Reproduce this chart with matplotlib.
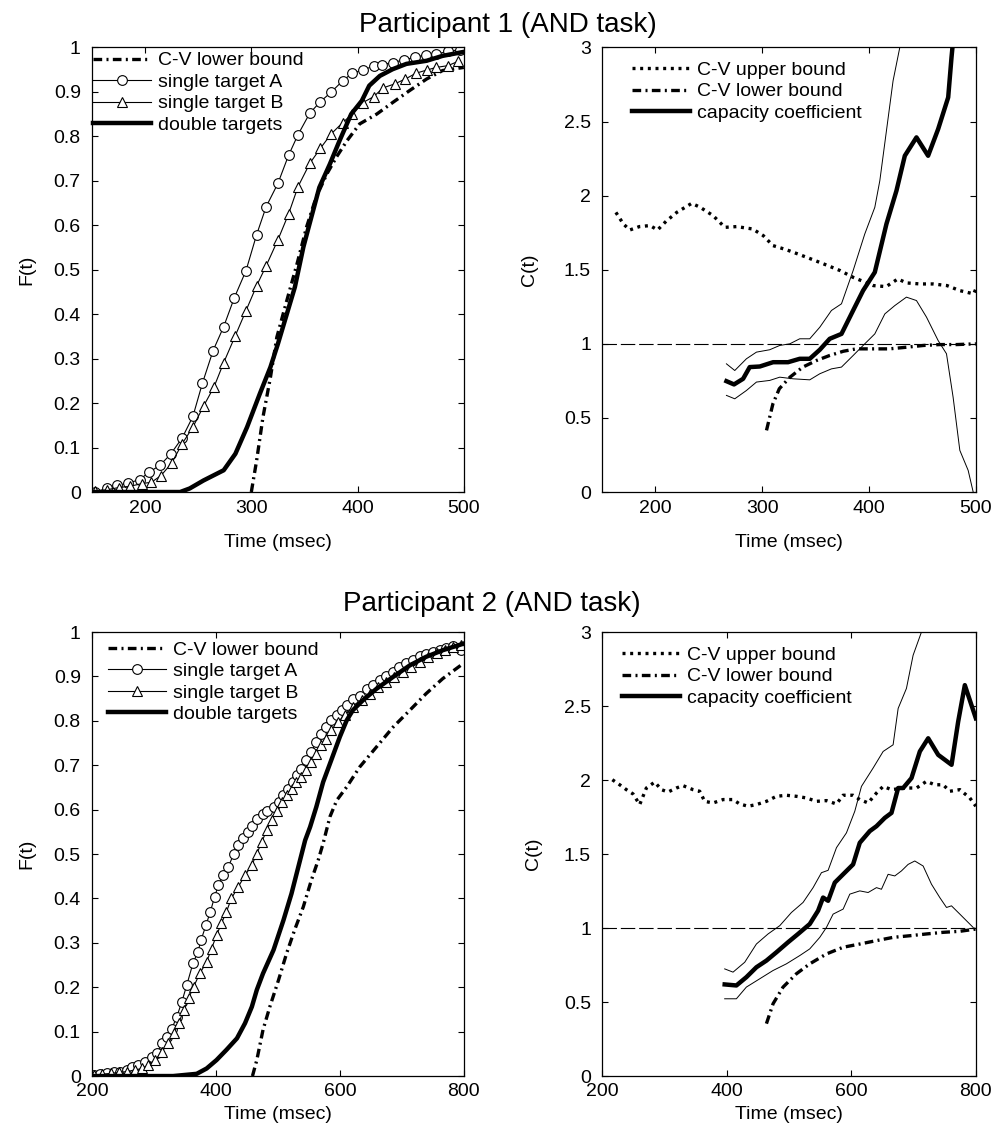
import numpy as np
import matplotlib
matplotlib.use("Agg")
import matplotlib.pyplot as plt

plt.rcParams['font.family'] = ['Liberation Sans', 'DejaVu Sans']

# ---------------- Participant 1, CDFs ----------------
p1_t_A = [153, 164, 174, 184, 195, 204, 214, 224, 235, 245, 254, 264, 274, 284, 295,
          305, 314, 325, 335, 344, 355, 365, 375, 386, 395, 405, 415, 423, 433, 444,
          454, 464, 474, 485, 496]
p1_F_A = [0.0, 0.008, 0.015, 0.020, 0.028, 0.045, 0.060, 0.085, 0.122, 0.170, 0.245,
          0.318, 0.372, 0.437, 0.498, 0.579, 0.642, 0.694, 0.757, 0.804, 0.852, 0.878,
          0.899, 0.925, 0.942, 0.949, 0.958, 0.961, 0.966, 0.972, 0.978, 0.983, 0.985,
          0.991, 0.995]

p1_t_B = [153, 164, 175, 186, 197, 206, 215, 225, 235, 245, 255, 265, 274, 285, 295,
          305, 314, 325, 335, 344, 355, 365, 375, 386, 395, 405, 415, 424, 435, 445,
          455, 465, 474, 485, 495]
p1_F_B = [0.002, 0.005, 0.010, 0.013, 0.019, 0.022, 0.037, 0.065, 0.109, 0.146, 0.193,
          0.237, 0.291, 0.352, 0.408, 0.464, 0.509, 0.567, 0.625, 0.687, 0.739, 0.773,
          0.805, 0.831, 0.850, 0.876, 0.889, 0.909, 0.918, 0.929, 0.942, 0.949, 0.955,
          0.959, 0.969]

p1_t_AB = [150, 233, 242, 255, 274, 285, 296, 308, 318, 325, 333, 341, 349, 354, 364,
           374, 383, 394, 404, 411, 421, 433, 446, 465, 480, 500]
p1_F_AB = [0.0, 0.0, 0.008, 0.026, 0.049, 0.086, 0.146, 0.221, 0.281, 0.333, 0.397,
           0.461, 0.551, 0.596, 0.685, 0.738, 0.790, 0.850, 0.880, 0.914, 0.936, 0.951,
           0.963, 0.970, 0.981, 0.990]

p1_t_lowF = [300, 305, 311, 318, 324, 330, 336, 343, 352, 361, 371, 380, 390, 402, 418,
             433, 449, 465, 480, 500]
p1_F_low = [0.0, 0.071, 0.169, 0.258, 0.348, 0.401, 0.453, 0.513, 0.596, 0.663, 0.715,
            0.753, 0.790, 0.828, 0.850, 0.876, 0.903, 0.929, 0.948, 0.955]

# ---------------- Participant 1, capacity ----------------
p1_t_up = [163, 170, 176, 185, 195, 202, 210, 220, 234, 242, 254, 265, 276, 291, 301,
           310, 323, 335, 348, 360, 373, 385, 398, 404, 416, 427, 435, 448, 460, 473,
           485, 498, 500]
p1_C_up = [1.887, 1.809, 1.768, 1.791, 1.798, 1.768, 1.827, 1.887, 1.948, 1.921, 1.865,
           1.786, 1.791, 1.775, 1.730, 1.663, 1.634, 1.602, 1.566, 1.532, 1.494, 1.449,
           1.411, 1.393, 1.386, 1.438, 1.411, 1.404, 1.404, 1.393, 1.359, 1.337, 1.371]

p1_t_lowC = [304, 310, 316, 326, 338, 351, 363, 376, 388, 404, 419, 435, 451, 466, 482, 500]
p1_C_low = [0.416, 0.595, 0.697, 0.775, 0.843, 0.888, 0.921, 0.950, 0.966, 0.966, 0.966,
            0.977, 0.989, 0.995, 0.995, 1.0]

p1_t_cap = [266.5, 273.6, 282.1, 288.3, 297.7, 310.2, 324.2, 335.1, 344.5, 353.9, 363.2,
            374.2, 385.1, 394.4, 405.4, 416.3, 425.7, 433.5, 444.4, 455.3, 464.7, 474.1,
            477.2, 478.1]
p1_C_cap = [0.748, 0.726, 0.764, 0.843, 0.847, 0.876, 0.876, 0.899, 0.899, 0.960, 1.034,
            1.067, 1.225, 1.359, 1.483, 1.809, 2.034, 2.269, 2.393, 2.269, 2.449, 2.663,
            2.932, 3.0]

p1_t_ciu = [266.5, 274.3, 285.2, 294.6, 307, 316.4, 325.8, 335.1, 344.5, 353.9, 364.8,
            374.2, 385.1, 396, 405.4, 410.1, 416.3, 422.5, 428.8]
p1_C_ciu = [0.865, 0.820, 0.899, 0.944, 0.960, 0.989, 1.0, 1.034, 1.034, 1.112, 1.225,
            1.270, 1.494, 1.741, 1.921, 2.101, 2.438, 2.775, 3.0]

p1_t_cil = [266.5, 274.3, 285.2, 294.6, 307, 316.4, 328.9, 344.5, 353.9, 364.8, 374.2,
            385.1, 396, 405.4, 414.8, 424.1, 435, 444.4, 453.8, 464.7, 472.5, 478.7,
            485, 492.8, 497.5]
p1_C_cil = [0.652, 0.629, 0.685, 0.742, 0.753, 0.775, 0.764, 0.757, 0.798, 0.831, 0.843,
            0.921, 1.0, 1.067, 1.202, 1.258, 1.315, 1.292, 1.180, 1.022, 0.933, 0.640,
            0.281, 0.146, 0.0]

# ---------------- Participant 2, CDFs ----------------
p2_t_A = [203, 213, 224, 235, 246, 256, 264, 275, 286, 297, 305, 313, 321, 329, 337,
          345, 353, 363, 371, 376, 384, 391, 398, 404, 412, 420, 429, 436, 444, 452,
          459, 467, 476, 482, 493, 501, 509, 517, 525, 531, 538, 546, 554, 562, 570,
          578, 586, 595, 603, 611, 621, 632, 643, 654, 664, 675, 686, 696, 707, 718,
          729, 739, 750, 761, 772, 782, 796]
p2_F_A = [0.002, 0.005, 0.006, 0.008, 0.010, 0.014, 0.021, 0.025, 0.032, 0.044, 0.051,
          0.074, 0.089, 0.107, 0.134, 0.167, 0.205, 0.254, 0.280, 0.306, 0.340, 0.370,
          0.404, 0.430, 0.452, 0.471, 0.501, 0.520, 0.535, 0.550, 0.563, 0.578, 0.591,
          0.597, 0.606, 0.617, 0.632, 0.647, 0.662, 0.677, 0.692, 0.711, 0.730, 0.752,
          0.771, 0.786, 0.801, 0.812, 0.824, 0.835, 0.850, 0.857, 0.872, 0.880, 0.891,
          0.902, 0.910, 0.921, 0.930, 0.938, 0.945, 0.951, 0.955, 0.960, 0.965, 0.968,
          0.959]

p2_t_B = [203, 216, 230, 243, 256, 270, 281, 291, 302, 313, 323, 332, 340, 348, 356,
          364, 374, 385, 393, 401, 409, 417, 425, 436, 447, 458, 466, 474, 482, 490,
          498, 506, 514, 522, 530, 538, 546, 554, 562, 570, 578, 586, 597, 608, 621,
          635, 648, 662, 675, 688, 702, 715, 729, 742, 756, 769, 782, 796]
p2_F_B = [0.002, 0.004, 0.006, 0.008, 0.010, 0.014, 0.017, 0.025, 0.036, 0.055, 0.074,
          0.096, 0.119, 0.149, 0.175, 0.201, 0.231, 0.257, 0.287, 0.317, 0.344, 0.370,
          0.400, 0.426, 0.452, 0.475, 0.501, 0.527, 0.554, 0.576, 0.597, 0.617, 0.632,
          0.647, 0.662, 0.674, 0.689, 0.707, 0.726, 0.745, 0.760, 0.779, 0.797, 0.812,
          0.831, 0.846, 0.861, 0.876, 0.887, 0.899, 0.910, 0.921, 0.932, 0.944, 0.953,
          0.960, 0.966, 0.970]

p2_t_AB = [200, 331, 369, 385, 401, 417, 434, 447, 458, 466, 476, 493, 509, 522, 533,
           544, 552, 562, 573, 586, 600, 611, 621, 637, 659, 686, 713, 739, 766, 800]
p2_F_AB = [0.0, 0.0, 0.005, 0.017, 0.036, 0.059, 0.085, 0.119, 0.156, 0.194, 0.231,
           0.284, 0.351, 0.411, 0.471, 0.531, 0.561, 0.606, 0.662, 0.711, 0.764, 0.801,
           0.824, 0.846, 0.872, 0.899, 0.925, 0.944, 0.959, 0.974]

p2_t_lowF = [459, 466, 476, 487, 501, 514, 527, 541, 554, 565, 573, 584, 595, 611, 632,
             659, 686, 713, 739, 766, 800]
p2_F_low = [0.0, 0.036, 0.104, 0.156, 0.216, 0.276, 0.329, 0.381, 0.441, 0.486, 0.524,
            0.584, 0.621, 0.651, 0.696, 0.741, 0.786, 0.824, 0.861, 0.895, 0.930]

# ---------------- Participant 2, capacity ----------------
p2_t_up = [216.6, 228.4, 239.1, 249.8, 260.5, 271.2, 284.6, 295.3, 306, 319.3, 330,
           346.1, 356.8, 364.8, 378.2, 394.3, 410.3, 421, 434.4, 447.8, 463.9, 479.9,
           496, 512, 528.1, 544.1, 560.2, 576.3, 586.9, 603, 613.7, 627.1, 640.5, 651.2,
           664.6, 677.9, 688.6, 704.7, 720.7, 734.1, 747.5, 758.2, 774.3, 790.3, 800]
p2_C_up = [2.002, 1.968, 1.935, 1.906, 1.834, 1.946, 1.986, 1.935, 1.919, 1.946, 1.962,
           1.935, 1.924, 1.856, 1.845, 1.868, 1.868, 1.838, 1.823, 1.834, 1.856, 1.890,
           1.897, 1.890, 1.879, 1.856, 1.861, 1.838, 1.897, 1.897, 1.868, 1.845, 1.912,
           1.957, 1.935, 1.942, 1.946, 1.946, 1.991, 1.968, 1.968, 1.924, 1.935, 1.879,
           1.823]

p2_t_lowC = [463.9, 474.6, 490.6, 512, 533.4, 560.2, 586.9, 613.7, 640.5, 667.2, 694,
             720.7, 747.5, 774.3, 800]
p2_C_low = [0.354, 0.489, 0.601, 0.691, 0.758, 0.825, 0.870, 0.892, 0.915, 0.937, 0.948,
            0.960, 0.971, 0.978, 0.993]

p2_t_cap = [396.9, 415.7, 431.7, 447.8, 463.9, 479.9, 498.6, 514.7, 533.4, 546.8, 554.8,
            562.9, 573.6, 589.6, 603, 613.7, 629.8, 640.5, 653.8, 664.6, 675.3, 683.3,
            696.7, 710.1, 723.5, 739.6, 761, 771.6, 782.3, 800]
p2_C_cap = [0.619, 0.612, 0.668, 0.735, 0.780, 0.836, 0.904, 0.960, 1.027, 1.117, 1.206,
            1.184, 1.307, 1.374, 1.430, 1.576, 1.655, 1.688, 1.744, 1.778, 1.946, 1.946,
            2.013, 2.193, 2.282, 2.170, 2.103, 2.394, 2.641, 2.417]

p2_t_ciu = [396.9, 410.3, 429.1, 447.8, 466.5, 485.3, 504, 522.7, 538.8, 552.2, 562.9,
            576.3, 592.3, 605.7, 616.4, 635.1, 651.2, 667.2, 675.3, 688.6, 699.3, 712.7]
p2_C_ciu = [0.724, 0.702, 0.769, 0.892, 0.960, 1.016, 1.105, 1.173, 1.273, 1.374, 1.390,
            1.543, 1.643, 1.789, 1.957, 2.081, 2.193, 2.238, 2.484, 2.619, 2.843, 3.0]

p2_t_cil = [396.9, 415.7, 431.7, 453.1, 474.5, 495.9, 517.4, 533.4, 549.5, 560.2, 570.9,
            587, 597.7, 613.7, 627.1, 640.5, 648.5, 659.2, 669.9, 680.6, 691.3, 702,
            715.4, 728.8, 742.1, 752.9, 760.9, 774.3, 795.7]
p2_C_cil = [0.522, 0.522, 0.601, 0.657, 0.713, 0.758, 0.814, 0.859, 0.937, 1.004, 1.094,
            1.128, 1.229, 1.251, 1.240, 1.273, 1.262, 1.363, 1.352, 1.386, 1.430, 1.453,
            1.419, 1.296, 1.206, 1.139, 1.150, 1.094, 1.004]

F_ticks = [0, 0.1, 0.2, 0.3, 0.4, 0.5, 0.6, 0.7, 0.8, 0.9, 1]
C_ticks = [0, 0.5, 1, 1.5, 2, 2.5, 3]

DASHDOT = (2.6, 1.3, 0.6, 1.3)
DOTTED = (0.9, 1.4)
FS = 14

fig = plt.figure(figsize=(10.05, 11.4), dpi=100)
ax1 = fig.add_axes([0.0915, 0.5684, 0.370, 0.390])
ax2 = fig.add_axes([0.599, 0.5684, 0.372, 0.390])
ax3 = fig.add_axes([0.0915, 0.0561, 0.370, 0.3895])
ax4 = fig.add_axes([0.599, 0.0561, 0.372, 0.3895])


def style(ax, xlim, xticks, ylim, yticks, ylab, xlab_y, ylab_x, xpad):
    ax.set_xlim(xlim)
    ax.set_ylim(ylim)
    ax.set_xticks(xticks)
    ax.set_yticks(yticks)
    ax.set_yticklabels(['%g' % v for v in yticks])
    ax.tick_params(direction='in', top=True, right=True, length=4, width=0.8,
                   labelsize=FS)
    ax.tick_params(axis='x', pad=xpad)
    ax.tick_params(axis='y', pad=8)
    for s in ax.spines.values():
        s.set_linewidth(0.9)
    ax.set_xlabel('Time (msec)', fontsize=FS)
    ax.set_ylabel(ylab, fontsize=FS)
    ax.xaxis.set_label_coords(0.5, xlab_y)
    ax.yaxis.set_label_coords(ylab_x, 0.5)


def cdf_panel(ax, tA, FA, tB, FB, tAB, FAB, tL, FL):
    ax.plot(tL, FL, color='black', lw=2.4, dashes=DASHDOT, label='C-V lower bound')
    ax.plot(tA, FA, color='black', lw=0.8, marker='o', ms=7, mfc='white', mec='black',
            mew=0.8, label='single target A')
    ax.plot(tB, FB, color='black', lw=0.8, marker='^', ms=7, mfc='white', mec='black',
            mew=0.8, label='single target B')
    ax.plot(tAB, FAB, color='black', lw=3.2, label='double targets')


def cap_panel(ax, tU, CU, tL, CL, tC, CC, tCu, CCu, tCl, CCl):
    ax.axhline(1, color='black', lw=0.8, dashes=(13, 3.5))
    ax.plot(tU, CU, color='black', lw=2.4, dashes=DOTTED, label='C-V upper bound')
    ax.plot(tL, CL, color='black', lw=2.4, dashes=DASHDOT, label='C-V lower bound')
    ax.plot(tC, CC, color='black', lw=3.2, label='capacity coefficient')
    ax.plot(tCu, CCu, color='black', lw=0.7)
    ax.plot(tCl, CCl, color='black', lw=0.7)


leg_kw = dict(frameon=False, fontsize=FS, handlelength=3.0, handletextpad=0.35,
              labelspacing=0.2, borderpad=0, borderaxespad=0, loc='upper left')

cdf_panel(ax1, p1_t_A, p1_F_A, p1_t_B, p1_F_B, p1_t_AB, p1_F_AB, p1_t_lowF, p1_F_low)
style(ax1, (150, 500), [200, 300, 400, 500], (0, 1), F_ticks, 'F(t)', -0.095, -0.153, 6)
ax1.legend(bbox_to_anchor=(0.002, 0.99), **leg_kw)

cap_panel(ax2, p1_t_up, p1_C_up, p1_t_lowC, p1_C_low, p1_t_cap, p1_C_cap,
          p1_t_ciu, p1_C_ciu, p1_t_cil, p1_C_cil)
style(ax2, (150, 500), [200, 300, 400, 500], (0, 3), C_ticks, 'C(t)', -0.095, -0.171, 6)
ax2.legend(bbox_to_anchor=(0.08, 0.969), **leg_kw)

cdf_panel(ax3, p2_t_A, p2_F_A, p2_t_B, p2_F_B, p2_t_AB, p2_F_AB, p2_t_lowF, p2_F_low)
style(ax3, (200, 800), [200, 400, 600, 800], (0, 1), F_ticks, 'F(t)', -0.068, -0.153, 5)
ax3.legend(bbox_to_anchor=(0.043, 0.98), **leg_kw)

cap_panel(ax4, p2_t_up, p2_C_up, p2_t_lowC, p2_C_low, p2_t_cap, p2_C_cap,
          p2_t_ciu, p2_C_ciu, p2_t_cil, p2_C_cil)
style(ax4, (200, 800), [200, 400, 600, 800], (0, 3), C_ticks, 'C(t)', -0.068, -0.16, 5)
ax4.legend(bbox_to_anchor=(0.053, 0.968), **leg_kw)

fig.text(0.5055, 1 - 25 / 1140, 'Participant 1 (AND task)', ha='center', va='center',
         fontsize=20)
fig.text(0.4895, 1 - 604 / 1140, 'Participant 2 (AND task)', ha='center', va='center',
         fontsize=20)

fig.savefig('out.png', dpi=100)
